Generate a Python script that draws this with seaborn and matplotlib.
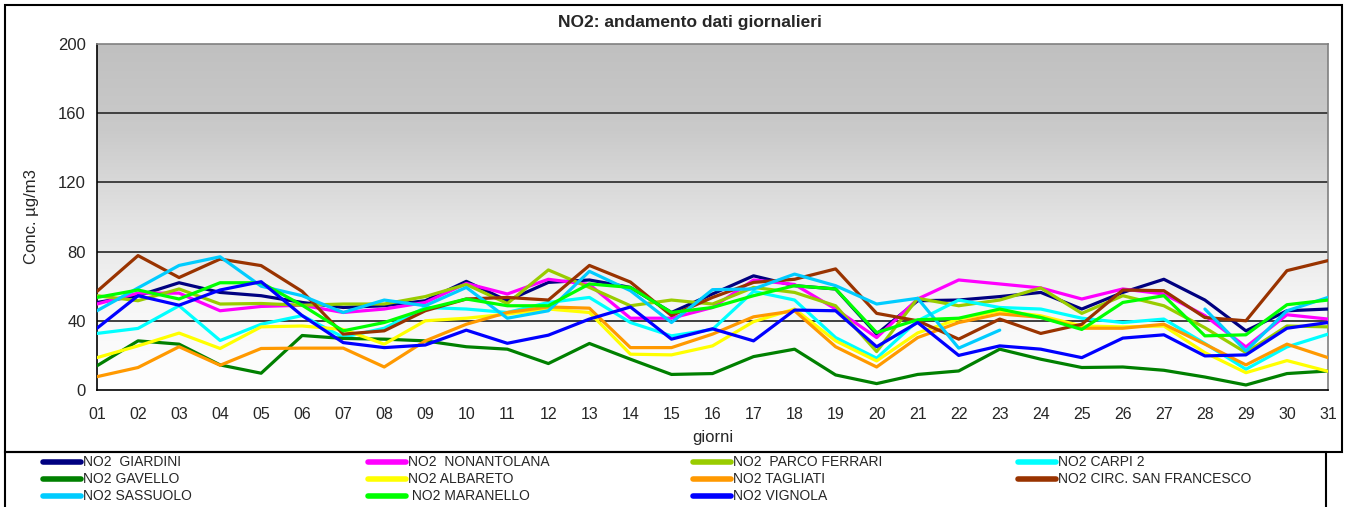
import numpy as np
import pandas as pd
import seaborn as sns
import matplotlib.pyplot as plt
from matplotlib.colors import LinearSegmentedColormap
from matplotlib.patches import Rectangle
from matplotlib.lines import Line2D

nan = np.nan
days = [f"{d:02d}" for d in range(1, 32)]

giardini = [50.6, 54.5, 62, 56.4, 54.5, 50.6, 47.7, 48.7, 51.6, 62.8, 51.6, 62.2, 63.6, 59.3, 44.8, 55.5,
            66, 60.3, 58.4, 32.3, 51.6, 52, 54, 56.4, 46.8, 56.4, 64, 52, 34.2, 45.8, 46.8]
nonantolana = [49.7, 56, 56, 45.8, 48.3, 49, 44.8, 46.8, 50.6, 61.6, 55.5, 64, 61, 41.5, 41.5, 47.7,
               63.6, 61, 46.8, 30.3, 52.6, 63.6, 61.3, 59, 52.6, 58.4, 55.5, 43, 24.9, 43.5, 41]
parco_ferrari = [54.5, 51.6, 58.4, 49.7, 50, 49, 49.7, 49.7, 54, 61, 50, 69.4, 59.3, 48.7, 52, 49.7,
                 59.3, 56.4, 48.7, 22.2, 53, 48.7, 52, 59, 44.3, 54.5, 48.7, 36, 21.6, 37, 36.5]
carpi2 = [32.7, 35.6, 48.7, 28.6, 38, 43, 30.5, 35.7, 47.7, 46.8, 44.8, 50.6, 53.5, 39, 31.3, 35,
          57, 52, 30.3, 18.4, 40, 52, 47.7, 46.8, 41.5, 39, 41, 26.9, 12, 24.9, 32.3]
gavello = [14, 28.4, 26.5, 14.5, 9.7, 31.5, 29.8, 29.4, 28.4, 25, 23.6, 15.3, 26.9, 17.8, 9, 9.5,
           19.3, 23.6, 8.7, 3.7, 9, 11, 23.6, 17.8, 13, 13.3, 11.4, 7.5, 2.9, 9.5, 11]
albareto = [18.7, 25.5, 32.9, 24, 36.5, 37, 35, 26.5, 40, 41.5, 43.9, 46.8, 44.8, 20.7, 20.3, 25.5,
            39.5, 46.8, 28.4, 16.8, 33, 41, 45.8, 42.9, 37, 36.5, 37, 21.6, 10, 17, 10.8]
tagliati = [7.7, 13, 25, 14.3, 24, 24.2, 24.2, 13.3, 28.4, 38, 44.8, 48, 47.3, 24.5, 24.5, 32.3,
            42.3, 45.8, 25, 13.3, 30.3, 39, 44, 42, 35.7, 35.7, 38, 26.5, 14.5, 26.5, 18.7]
circ_sf = [57, 77.7, 65, 75.7, 71.9, 57, 32.3, 34.2, 45.8, 52.6, 53.5, 52, 72, 62.4, 43, 53.5,
           62.2, 64, 70, 44.3, 40, 29.4, 41, 32.7, 38, 57.8, 57.4, 41.9, 40, 69, 74.8]
sassuolo = [45.8, 59, 72, 77, 60, 54.5, 44.8, 52, 48.7, 59.3, 41.5, 45.8, 68.6, 57.4, 39, 58,
            58.4, 67, 60.3, 49.7, 53, 24.2, 34.6, nan, nan, nan, nan, 46.8, 22.6, 45.8, 53.5]
maranello = [53.5, 57.8, 52.6, 62, 62, 49, 34.2, 39, 46.8, 52.6, 48.7, 48.7, 61.3, 59.3, 44.8, 47.7,
             54.5, 60.3, 58.4, 33.2, 40.6, 41.5, 46.8, 41.9, 35, 50.6, 54.5, 31.3, 31.9, 49.3, 52]
vignola = [35.7, 54.5, 49, 57.8, 62.6, 43, 27.4, 24.5, 26, 34.6, 27, 31.7, 41, 48, 29.4, 35.4,
           28.4, 46.2, 45.8, 25, 39, 20, 25.5, 23.6, 18.7, 30, 31.9, 19.7, 20.3, 35.7, 39]

series = [
    ("NO2  GIARDINI", giardini, "#000080"),
    ("NO2  NONANTOLANA", nonantolana, "#ff00ff"),
    ("NO2  PARCO FERRARI", parco_ferrari, "#99cc00"),
    ("NO2 CARPI 2", carpi2, "#00ffff"),
    ("NO2 GAVELLO", gavello, "#008000"),
    ("NO2 ALBARETO", albareto, "#ffff00"),
    ("NO2 TAGLIATI", tagliati, "#ff9900"),
    ("NO2 CIRC. SAN FRANCESCO", circ_sf, "#993300"),
    ("NO2 SASSUOLO", sassuolo, "#00ccff"),
    (" NO2 MARANELLO", maranello, "#00ff00"),
    ("NO2 VIGNOLA", vignola, "#0000ff"),
]

sns.set_style("white")
plt.rcParams['font.family'] = ['Liberation Sans', 'DejaVu Sans']

W, H = 1348, 507
fig = plt.figure(figsize=(W / 100, H / 100), dpi=100)
ax = fig.add_axes([97 / W, 1 - 390 / H, (1328 - 97) / W, (390 - 44) / H])

# gradient plot background (grey at top fading to white)
grad = np.linspace(0, 1, 256).reshape(-1, 1)
cmap = LinearSegmentedColormap.from_list("bg", ["#ffffff", "#f6f6f6", "#e2e2e2", "#cacaca", "#c0c0c0"])
ax.imshow(grad, extent=[1, 31, 0, 200], origin="lower", aspect="auto", cmap=cmap, zorder=0)

x = np.arange(1, 32)
for name, vals, col in series:
    df = pd.DataFrame({"day": x, "value": vals})
    ok = df["value"].notna()
    run = (~ok).cumsum()
    # draw each contiguous run separately so missing days leave a gap
    for _, seg in df[ok].groupby(run[ok]):
        sns.lineplot(data=seg, x="day", y="value", color=col, linewidth=2.3, ax=ax, zorder=3,
                     solid_capstyle="round")

for yv in [40, 80, 120, 160]:
    ax.axhline(yv, color="#404040", lw=1.4, zorder=1)

ax.set_xlim(1, 31)
ax.set_ylim(0, 200)
ax.set_xticks(x)
ax.set_xticklabels(days, fontsize=11.5)
ax.set_yticks([0, 40, 80, 120, 160, 200])
ax.set_yticklabels(["0", "40", "80", "120", "160", "200"], fontsize=12)
ax.tick_params(axis="x", direction="out", length=5, width=1, color="black", pad=7)
ax.tick_params(axis="y", direction="out", length=5, width=1, color="black", pad=3)
ax.set_xlabel("giorni", fontsize=12, labelpad=6)
ax.set_ylabel("Conc. µg/m3", fontsize=12, labelpad=14)
for side in ["top", "right"]:
    ax.spines[side].set_color("#808080")
    ax.spines[side].set_linewidth(1.2)
for side in ["left", "bottom"]:
    ax.spines[side].set_color("black")
    ax.spines[side].set_linewidth(1.2)

fig.text(690 / W, 1 - 22 / H, "NO2: andamento dati giornalieri", ha="center", va="center",
         fontsize=12.5, fontweight="bold")

# frames
fig.patches.append(Rectangle((5 / W, 1 - 452 / H), (1342 - 5) / W, (452 - 5) / H,
                             transform=fig.transFigure, fill=False, edgecolor="black", lw=1.5))
fig.patches.append(Rectangle((5 / W, 1 - 515 / H), (1326 - 5) / W, (515 - 452) / H,
                             transform=fig.transFigure, fill=False, edgecolor="black", lw=1.5))

# legend: 4 columns placed separately, filled row-wise
col_x = [42, 367, 692, 1017]
for c in range(4):
    items = series[c::4]
    handles = [Line2D([], [], color=col, lw=4, solid_capstyle="round") for _, _, col in items]
    labels = [n for n, _, _ in items]
    fig.legend(handles, labels, loc="upper left", bbox_to_anchor=(col_x[c] / W, 1 - 454 / H),
               frameon=False, handlelength=2.7, handletextpad=0.15, labelspacing=0.22,
               borderpad=0.1, borderaxespad=0,
               prop={"family": ["Liberation Sans Narrow", "Liberation Sans"], "size": 10})

fig.savefig("out.png", dpi=100)
